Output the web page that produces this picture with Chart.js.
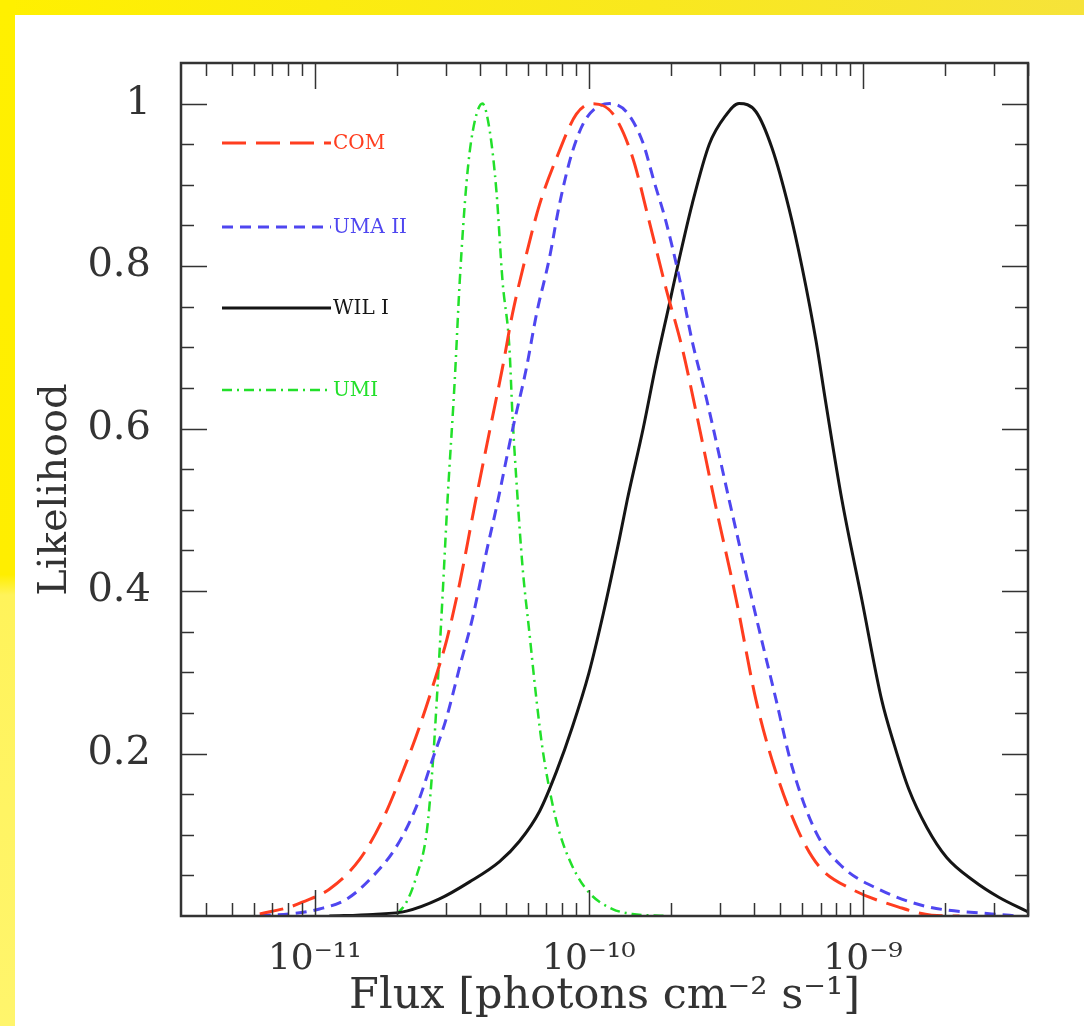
<!DOCTYPE html>
<html lang="en">
<head>
<meta charset="UTF-8">
<title>Likelihood vs Flux</title>
<script src="https://cdn.jsdelivr.net/npm/chart.js"></script>
<style>
    body {
        margin: 0;
        padding: 0;
        background: #fff;
        overflow: hidden;
    }
    .wrap {
        position: relative;
        width: 1084px;
        height: 1026px;
        background: #fff;
    }
    .bar-top {
        position: absolute;
        left: 0; top: 0;
        width: 1084px; height: 15px;
        background: linear-gradient(to right, #fff000, #f9e81e 60%, #f6e33a);
    }
    .bar-left {
        position: absolute;
        left: 0; top: 0;
        width: 15px; height: 1026px;
        background: linear-gradient(to bottom, #fff000 0%, #ffee00 56%, #fff35a 58%, #fff56c 100%);
    }
    canvas {
        position: absolute;
        left: 0; top: 0;
    }
</style>
</head>
<body>
<div class="wrap">
    <div class="bar-top"></div>
    <div class="bar-left"></div>
    <canvas id="chart" width="1084" height="1026"></canvas>
</div>

<script>
    // flux values are in photons cm^-2 s^-1, likelihood normalised to 1
    const comFlux = [6.3e-12, 8.1e-12, 9.0e-12, 1.13e-11, 1.46e-11, 1.77e-11, 2.09e-11, 2.41e-11, 2.69e-11, 3.03e-11,
        3.38e-11, 3.83e-11, 4.35e-11, 4.84e-11, 5.26e-11, 5.92e-11, 6.61e-11, 7.62e-11, 9.0e-11, 1.03e-10,
        1.22e-10, 1.44e-10, 1.66e-10, 1.91e-10, 2.19e-10, 2.47e-10, 2.87e-10, 3.45e-10, 4.07e-10, 4.74e-10,
        5.84e-10, 6.92e-10, 9.11e-10, 1.35e-9, 1.78e-9, 2.25e-9];
    const comLike = [0.0025, 0.011, 0.017, 0.033, 0.070, 0.119, 0.177, 0.233, 0.282, 0.340,
        0.410, 0.505, 0.598, 0.675, 0.741, 0.815, 0.876, 0.933, 0.987, 1.0,
        0.988, 0.935, 0.855, 0.773, 0.699, 0.618, 0.512, 0.389, 0.266, 0.184,
        0.103, 0.061, 0.033, 0.011, 0.001, 0];

    const umaFlux = [6.3e-12, 8.1e-12, 1.04e-11, 1.31e-11, 1.63e-11, 1.99e-11, 2.35e-11, 2.69e-11, 3.03e-11, 3.38e-11,
        3.77e-11, 4.24e-11, 4.60e-11, 5.26e-11, 5.92e-11, 6.44e-11, 7.18e-11, 7.81e-11, 8.71e-11, 9.79e-11,
        1.19e-10, 1.37e-10, 1.57e-10, 1.73e-10, 1.91e-10, 2.14e-10, 2.38e-10, 2.68e-10, 3.25e-10, 3.94e-10,
        4.82e-10, 5.51e-10, 6.74e-10, 8.38e-10, 1.14e-9, 1.69e-9, 2.95e-9, 3.7e-9];
    const umaLike = [0.001, 0.0025, 0.0086, 0.021, 0.049, 0.086, 0.135, 0.193, 0.245, 0.307,
        0.368, 0.450, 0.503, 0.598, 0.675, 0.741, 0.810, 0.876, 0.941, 0.982,
        1.0, 0.990, 0.953, 0.904, 0.855, 0.785, 0.708, 0.638, 0.512, 0.389,
        0.266, 0.184, 0.103, 0.061, 0.033, 0.012, 0.0025, 0];

    const wilFlux = [1.13e-11, 1.63e-11, 2.16e-11, 2.85e-11, 3.67e-11, 4.72e-11, 5.58e-11, 6.61e-11, 7.62e-11, 8.71e-11,
        1.0e-10, 1.13e-10, 1.29e-10, 1.38e-10, 1.58e-10, 1.76e-10, 1.95e-10, 2.14e-10, 2.38e-10, 2.75e-10,
        3.15e-10, 3.53e-10, 4.07e-10, 4.66e-10, 5.37e-10, 6.0e-10, 6.74e-10, 7.3e-10, 8.38e-10, 9.91e-10,
        1.17e-9, 1.30e-9, 1.47e-9, 1.71e-9, 2.02e-9, 2.54e-9, 3.13e-9, 4.0e-9];
    const wilLike = [0, 0.002, 0.006, 0.021, 0.042, 0.067, 0.092, 0.129, 0.178, 0.233,
        0.299, 0.373, 0.463, 0.512, 0.601, 0.680, 0.748, 0.810, 0.876, 0.950,
        0.985, 1.0, 0.990, 0.945, 0.871, 0.798, 0.708, 0.634, 0.512, 0.389,
        0.266, 0.211, 0.156, 0.109, 0.072, 0.043, 0.023, 0.005];

    const umiFlux = [1.99e-11, 2.16e-11, 2.35e-11, 2.56e-11, 2.69e-11, 2.81e-11, 2.92e-11, 3.05e-11, 3.24e-11, 3.38e-11,
        3.58e-11, 3.77e-11, 4.09e-11, 4.35e-11, 4.60e-11, 4.84e-11, 5.13e-11, 5.26e-11, 5.44e-11, 5.73e-11,
        6.07e-11, 6.44e-11, 6.78e-11, 7.30e-11, 7.81e-11, 8.71e-11, 1.0e-10, 1.22e-10, 1.44e-10, 1.91e-10];
    const umiLike = [0.002, 0.017, 0.049, 0.103, 0.184, 0.287, 0.389, 0.512, 0.659, 0.782,
        0.904, 0.966, 1.0, 0.966, 0.892, 0.782, 0.699, 0.618, 0.536, 0.429,
        0.348, 0.266, 0.205, 0.144, 0.103, 0.061, 0.029, 0.0086, 0.0025, 0];

    const xTickValues = [1e-11, 1e-10, 1e-9];
    const xTickLabels = ['10\u207B\u00B9\u00B9', '10\u207B\u00B9\u2070', '10\u207B\u2079'];
    const yTickValues = [0.2, 0.4, 0.6, 0.8, 1.0];
    const yTickLabels = ['0.2', '0.4', '0.6', '0.8', '1'];

    const seriesNames = ['COM', 'UMA II', 'WIL I', 'UMI'];

    function pts(xs, ys) {
        return xs.map((v, i) => ({ x: v, y: ys[i] }));
    }

    const serif = "'DejaVu Serif', 'Liberation Serif', serif";
    const ink = '#333';

    // inward ticks on all four sides plus the box
    const frameTicks = {
        id: 'frameTicks',
        afterDatasetsDraw(chart) {
            const { ctx, chartArea: a, scales: { x, y } } = chart;
            ctx.save();
            ctx.strokeStyle = ink;
            ctx.lineWidth = 1.5;
            ctx.beginPath();
            for (let i = 1; i <= 20; i++) {
                const py = Math.round(y.getPixelForValue(i * 0.05)) + 0.5;
                const len = i % 4 === 0 ? 26 : 13;
                ctx.moveTo(a.left, py); ctx.lineTo(a.left + len, py);
                ctx.moveTo(a.right, py); ctx.lineTo(a.right - len, py);
            }
            for (let e = -12; e <= -9; e++) {
                for (let m = 1; m <= 9; m++) {
                    const v = m * Math.pow(10, e);
                    if (v < x.min || v > x.max) continue;
                    const px = Math.round(x.getPixelForValue(v)) + 0.5;
                    const len = m === 1 ? 26 : 13;
                    ctx.moveTo(px, a.bottom); ctx.lineTo(px, a.bottom - len);
                    ctx.moveTo(px, a.top); ctx.lineTo(px, a.top + len);
                }
            }
            ctx.stroke();
            ctx.lineWidth = 2.5;
            ctx.strokeRect(a.left, a.top, a.right - a.left, a.bottom - a.top);
            ctx.restore();
        }
    };

    // legend drawn inside the plot, top left
    const insideLegend = {
        id: 'insideLegend',
        afterDatasetsDraw(chart) {
            const { ctx, chartArea: a } = chart;
            const rows = [80, 164, 245, 327];
            ctx.save();
            chart.data.datasets.forEach((ds, i) => {
                const yy = a.top + rows[i];
                ctx.strokeStyle = ds.borderColor;
                ctx.lineWidth = ds.borderWidth;
                ctx.setLineDash(ds.borderDash || []);
                ctx.beginPath();
                ctx.moveTo(a.left + 41, yy);
                ctx.lineTo(a.left + 150, yy);
                ctx.stroke();
                ctx.setLineDash([]);
                ctx.fillStyle = ds.borderColor;
                ctx.font = "20px " + serif;
                ctx.textBaseline = 'middle';
                ctx.textAlign = 'left';
                ctx.fillText(ds.label, a.left + 152, yy + 1);
            });
            ctx.restore();
        }
    };

    new Chart(document.getElementById('chart').getContext('2d'), {
        type: 'line',
        data: {
            datasets: [
                {
                    label: seriesNames[0],
                    data: pts(comFlux, comLike),
                    borderColor: '#ff3d1f',
                    borderWidth: 3,
                    borderDash: [24, 10]
                },
                {
                    label: seriesNames[1],
                    data: pts(umaFlux, umaLike),
                    borderColor: '#4f46f0',
                    borderWidth: 3,
                    borderDash: [11, 7]
                },
                {
                    label: seriesNames[2],
                    data: pts(wilFlux, wilLike),
                    borderColor: '#151515',
                    borderWidth: 3
                },
                {
                    label: seriesNames[3],
                    data: pts(umiFlux, umiLike),
                    borderColor: '#22e02a',
                    borderWidth: 2.5,
                    borderDash: [10, 5, 2, 5]
                }
            ]
        },
        options: {
            responsive: false,
            animation: false,
            layout: { padding: { left: 0, top: 63, right: 56, bottom: 0 } },
            elements: {
                point: { radius: 0 },
                line: { cubicInterpolationMode: 'monotone', fill: false }
            },
            plugins: {
                legend: { display: false },
                tooltip: { enabled: false }
            },
            scales: {
                x: {
                    type: 'logarithmic',
                    position: 'bottom',
                    min: 3.25e-12,
                    max: 4e-9,
                    grid: { display: false, drawTicks: false },
                    border: { display: false },
                    afterBuildTicks: (s) => { s.ticks = xTickValues.map(v => ({ value: v })); },
                    afterFit: (s) => { s.height = 110; },
                    ticks: {
                        autoSkip: false,
                        maxRotation: 0,
                        padding: 22,
                        color: ink,
                        font: { family: serif, size: 36 },
                        callback: (v, i) => xTickLabels[i]
                    },
                    title: {
                        display: true,
                        text: 'Flux [photons cm\u207B\u00B2 s\u207B\u00B9]',
                        color: ink,
                        font: { family: serif, size: 43 },
                        padding: { top: 0, bottom: 3 }
                    }
                },
                y: {
                    type: 'linear',
                    min: 0,
                    max: 1.05,
                    grid: { display: false, drawTicks: false },
                    border: { display: false },
                    afterBuildTicks: (s) => { s.ticks = yTickValues.map(v => ({ value: v })); },
                    afterFit: (s) => { s.width = 181; },
                    ticks: {
                        padding: 30,
                        color: ink,
                        font: { family: serif, size: 40 },
                        callback: (v, i) => yTickLabels[i]
                    },
                    title: {
                        display: true,
                        text: 'Likelihood',
                        color: ink,
                        font: { family: serif, size: 40 },
                        padding: { top: 32, bottom: 0 }
                    }
                }
            }
        },
        plugins: [frameTicks, insideLegend]
    });
</script>
</body>
</html>
